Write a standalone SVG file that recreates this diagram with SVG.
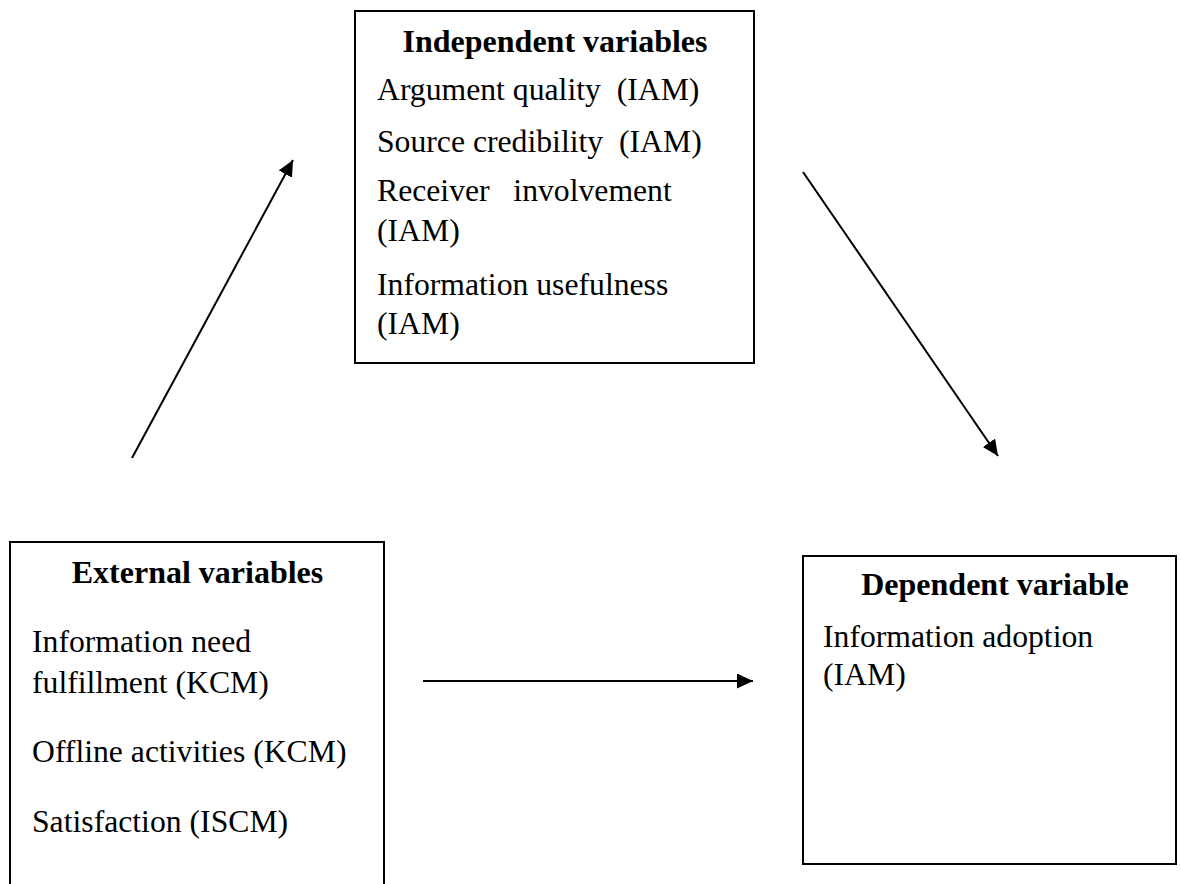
<svg xmlns="http://www.w3.org/2000/svg" width="1181" height="884" viewBox="0 0 1181 884">
  <style>
    .box { fill: #ffffff; stroke: #000000; stroke-width: 2; }
    .title { font-family: "Liberation Serif", "Times New Roman", serif; font-size: 32px; font-weight: bold; fill: #000000; text-anchor: middle; }
    .item { font-family: "Liberation Serif", "Times New Roman", serif; font-size: 31.7px; fill: #000000; white-space: pre; }
    .link { stroke: #000000; stroke-width: 2; fill: none; marker-end: url(#arrow); }
  </style>
  <defs>
    <marker id="arrow" markerUnits="userSpaceOnUse" markerWidth="17" markerHeight="16" refX="16" refY="7.5" orient="auto">
      <path d="M0,0 L16,7.5 L0,15 Z" fill="#000000"/>
    </marker>
  </defs>

  <rect width="1181" height="884" fill="#ffffff"/>

  <!-- Independent variables -->
  <g id="independent">
    <rect class="box" x="355" y="11" width="399" height="352"/>
    <text class="title" x="555" y="52">Independent variables</text>
    <text class="item" x="377" y="100" xml:space="preserve">Argument quality  (IAM)</text>
    <text class="item" x="377" y="152" xml:space="preserve">Source credibility  (IAM)</text>
    <text class="item" x="377" y="201" xml:space="preserve">Receiver   involvement</text>
    <text class="item" x="377" y="241">(IAM)</text>
    <text class="item" x="377" y="295">Information usefulness</text>
    <text class="item" x="377" y="334">(IAM)</text>
  </g>

  <!-- External variables (box runs past the lower edge) -->
  <g id="external">
    <path class="box" d="M10,890 V542 H384 V890"/>
    <text class="title" x="197.5" y="583">External variables</text>
    <text class="item" x="32" y="652">Information need</text>
    <text class="item" x="32" y="693">fulfillment (KCM)</text>
    <text class="item" x="32" y="762">Offline activities (KCM)</text>
    <text class="item" x="32" y="832">Satisfaction (ISCM)</text>
  </g>

  <!-- Dependent variable -->
  <g id="dependent">
    <rect class="box" x="803" y="556" width="373" height="308"/>
    <text class="title" x="995" y="595">Dependent variable</text>
    <text class="item" x="823" y="647">Information adoption</text>
    <text class="item" x="823" y="685">(IAM)</text>
  </g>

  <!-- Connectors -->
  <g id="connectors">
    <line class="link" x1="132" y1="458" x2="293" y2="160"/>
    <line class="link" x1="803" y1="172" x2="998" y2="456"/>
    <line class="link" x1="423" y1="681" x2="753" y2="681"/>
  </g>
</svg>
